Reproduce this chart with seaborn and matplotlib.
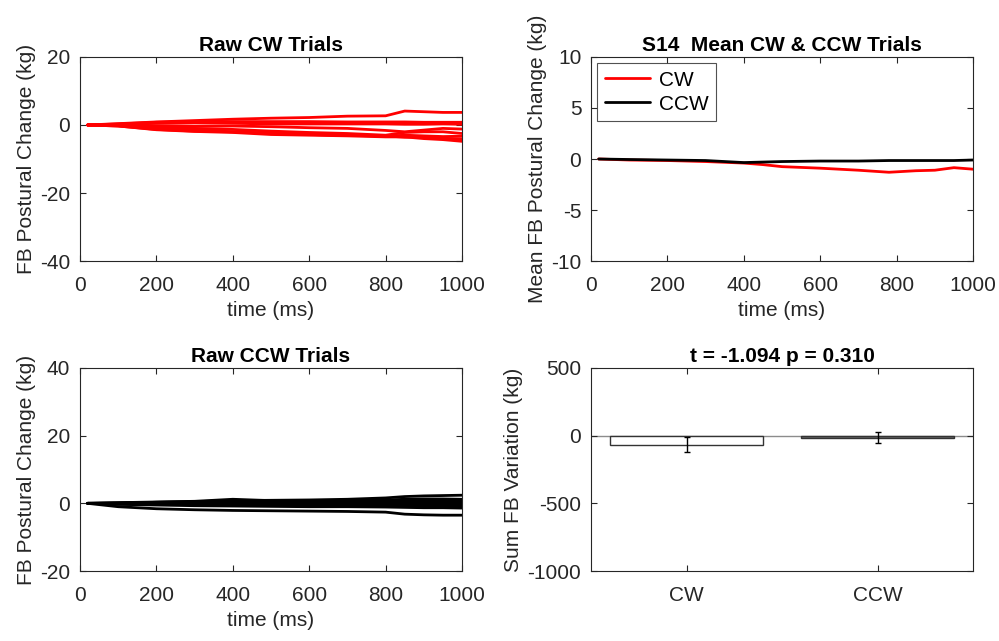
import matplotlib
matplotlib.use('Agg')
import matplotlib.pyplot as plt
import pandas as pd
import seaborn as sns

# time samples (ms)
time = [20, 100, 200, 300, 400, 500, 600, 700, 800, 850, 900, 950, 1000]

# raw CW trials (kg)
cw_trials = [
    [0, 0.4, 0.9, 1.3, 1.7, 2.0, 2.2, 2.6, 2.7, 4.1, 3.9, 3.7, 3.7],
    [0, 0.3, 0.8, 1.0, 1.0, 1.0, 1.0, 0.9, 0.9, 0.9, 0.8, 0.8, 0.8],
    [0, 0.2, 0.5, 0.6, 0.5, 0.3, 0.3, 0.3, 0.3, 0.2, 0.2, 0.3, 0.2],
    [0, 0.1, -0.2, -0.4, -0.3, -0.5, -0.8, -1.0, -1.6, -2.0, -1.5, -1.0, -1.2],
    [0, -0.1, -0.6, -1.0, -1.3, -1.8, -2.2, -2.5, -3.0, -2.2, -2.0, -2.0, -2.5],
    [0, -0.2, -1.0, -1.5, -2.0, -2.4, -2.8, -3.0, -3.3, -3.0, -3.2, -3.4, -3.3],
    [0, -0.3, -1.3, -1.8, -2.0, -2.5, -2.8, -3.0, -3.2, -3.6, -3.5, -3.9, -4.1],
    [0, -0.3, -1.4, -1.9, -2.2, -2.8, -3.0, -3.2, -3.5, -3.5, -4.0, -4.3, -4.8],
]

# raw CCW trials (kg)
ccw_trials = [
    [0, 0.1, 0.3, 0.5, 0.8, 0.9, 1.0, 1.2, 1.6, 2.0, 2.2, 2.3, 2.4],
    [0, 0.2, 0.4, 0.6, 1.2, 0.8, 0.7, 0.9, 1.0, 1.2, 1.3, 1.3, 1.2],
    [0, 0.1, 0.3, 0.4, 0.6, 0.6, 0.5, 0.6, 0.8, 0.7, 0.8, 0.7, 0.6],
    [0, 0.0, 0.2, 0.2, 0.3, 0.2, 0.2, 0.1, 0.2, 0.2, 0.1, 0.0, 0.1],
    [0, -0.1, 0.0, -0.1, 0.0, -0.2, -0.3, -0.3, -0.3, -0.4, -0.5, -0.4, -0.5],
    [0, -0.2, -0.3, -0.4, -0.3, -0.5, -0.6, -0.7, -0.8, -0.8, -0.9, -0.8, -0.8],
    [0, -0.3, -0.5, -0.7, -0.8, -0.9, -1.0, -1.0, -1.1, -1.2, -1.3, -1.3, -1.4],
    [0, -1.0, -1.6, -1.9, -2.1, -2.2, -2.3, -2.4, -2.6, -3.2, -3.4, -3.5, -3.5],
]

# mean traces
mean_time = [20, 100, 200, 300, 400, 450, 500, 600, 700, 780, 850, 900, 950, 1000]
cw_mean = [0, -0.1, -0.15, -0.25, -0.4, -0.55, -0.75, -0.9, -1.1, -1.3, -1.15, -1.1, -0.85, -1.0]
ccw_mean = [0, -0.05, -0.1, -0.15, -0.35, -0.3, -0.25, -0.2, -0.2, -0.15, -0.15, -0.15, -0.15, -0.1]

# summed variation
conditions = ['CW', 'CCW']
sum_var = [-66, -15]
sum_err = [56, 39]


def long_form(trials):
    rows = []
    for i, tr in enumerate(trials):
        for t, v in zip(time, tr):
            rows.append({'trial': i, 'time': t, 'value': v})
    return pd.DataFrame(rows)


sns.set_style('ticks')
plt.rcParams['font.family'] = ['Liberation Sans', 'DejaVu Sans']
plt.rcParams['font.size'] = 15
plt.rcParams['axes.unicode_minus'] = False
dark = '#262626'
plt.rcParams['text.color'] = 'black'
plt.rcParams['axes.labelcolor'] = dark
plt.rcParams['xtick.color'] = dark
plt.rcParams['ytick.color'] = dark
plt.rcParams['axes.edgecolor'] = dark

fig = plt.figure(figsize=(9.99, 6.41), dpi=100)
ax1 = fig.add_axes([0.0801, 0.5928, 0.3824, 0.3183])
ax2 = fig.add_axes([0.5916, 0.5928, 0.3824, 0.3183])
ax3 = fig.add_axes([0.0801, 0.1092, 0.3824, 0.3167])
ax4 = fig.add_axes([0.5916, 0.1092, 0.3824, 0.3167])


def style(ax):
    ax.tick_params(direction='in', top=True, right=True, length=4, width=0.8,
                   labelsize=15)
    ax.tick_params(axis='x', pad=11)
    ax.tick_params(axis='y', pad=7)
    for s in ax.spines.values():
        s.set_linewidth(0.8)
        s.set_color(dark)
    ax.xaxis.labelpad = 4
    ax.yaxis.labelpad = 3


# Raw CW
sns.lineplot(data=long_form(cw_trials), x='time', y='value', units='trial',
             estimator=None, color='red', lw=2, ax=ax1)
ax1.set(xlim=(0, 1000), ylim=(-40, 20), xticks=range(0, 1001, 200), yticks=[-40, -20, 0, 20])
ax1.set_xlabel('time (ms)', fontsize=15)
ax1.set_ylabel('FB Postural Change (kg)', fontsize=15)
ax1.set_title('Raw CW Trials', fontsize=15, fontweight='bold', pad=4)

# Mean
sns.lineplot(x=mean_time, y=cw_mean, color='red', lw=2, label='CW', ax=ax2)
sns.lineplot(x=mean_time, y=ccw_mean, color='black', lw=2, label='CCW', ax=ax2)
ax2.set(xlim=(0, 1000), ylim=(-10, 10), xticks=range(0, 1001, 200), yticks=[-10, -5, 0, 5, 10])
ax2.set_xlabel('time (ms)', fontsize=15)
ax2.set_ylabel('Mean FB Postural Change (kg)', fontsize=15)
ax2.set_title('S14  Mean CW & CCW Trials', fontsize=15, fontweight='bold', pad=4)
leg = ax2.legend(loc='upper left', fontsize=15, frameon=True, fancybox=False,
                 handlelength=2.2, borderpad=0.35, labelspacing=0.25, handletextpad=0.4,
                 borderaxespad=0.3)
leg.get_frame().set_edgecolor(dark)
leg.get_frame().set_linewidth(0.8)

# Raw CCW
sns.lineplot(data=long_form(ccw_trials), x='time', y='value', units='trial',
             estimator=None, color='black', lw=2, ax=ax3)
ax3.set(xlim=(0, 1000), ylim=(-20, 40), xticks=range(0, 1001, 200), yticks=[-20, 0, 20, 40])
ax3.set_xlabel('time (ms)', fontsize=15)
ax3.set_ylabel('FB Postural Change (kg)', fontsize=15)
ax3.set_title('Raw CCW Trials', fontsize=15, fontweight='bold', pad=4)

# Sum bars
bar_df = pd.DataFrame({'cond': conditions, 'val': sum_var})
sns.barplot(data=bar_df, x='cond', y='val', hue='cond', palette=['white', '#666666'],
            edgecolor='#333333', linewidth=1, width=0.8, errorbar=None, legend=False, ax=ax4)
ax4.axhline(0, color='#8c8c8c', lw=1, zorder=0.5)
ax4.errorbar(range(len(conditions)), sum_var, yerr=sum_err, fmt='none', ecolor='black',
             elinewidth=1, capsize=2)
ax4.set(xlim=(-0.5, 1.5), ylim=(-1000, 500), yticks=[-1000, -500, 0, 500])
ax4.set_xlabel('')
ax4.set_ylabel('Sum FB Variation (kg)', fontsize=15)
ax4.set_title('t = -1.094 p = 0.310', fontsize=15, fontweight='bold', pad=4)

for ax in (ax1, ax2, ax3, ax4):
    style(ax)

fig.savefig('out.png', dpi=100)
